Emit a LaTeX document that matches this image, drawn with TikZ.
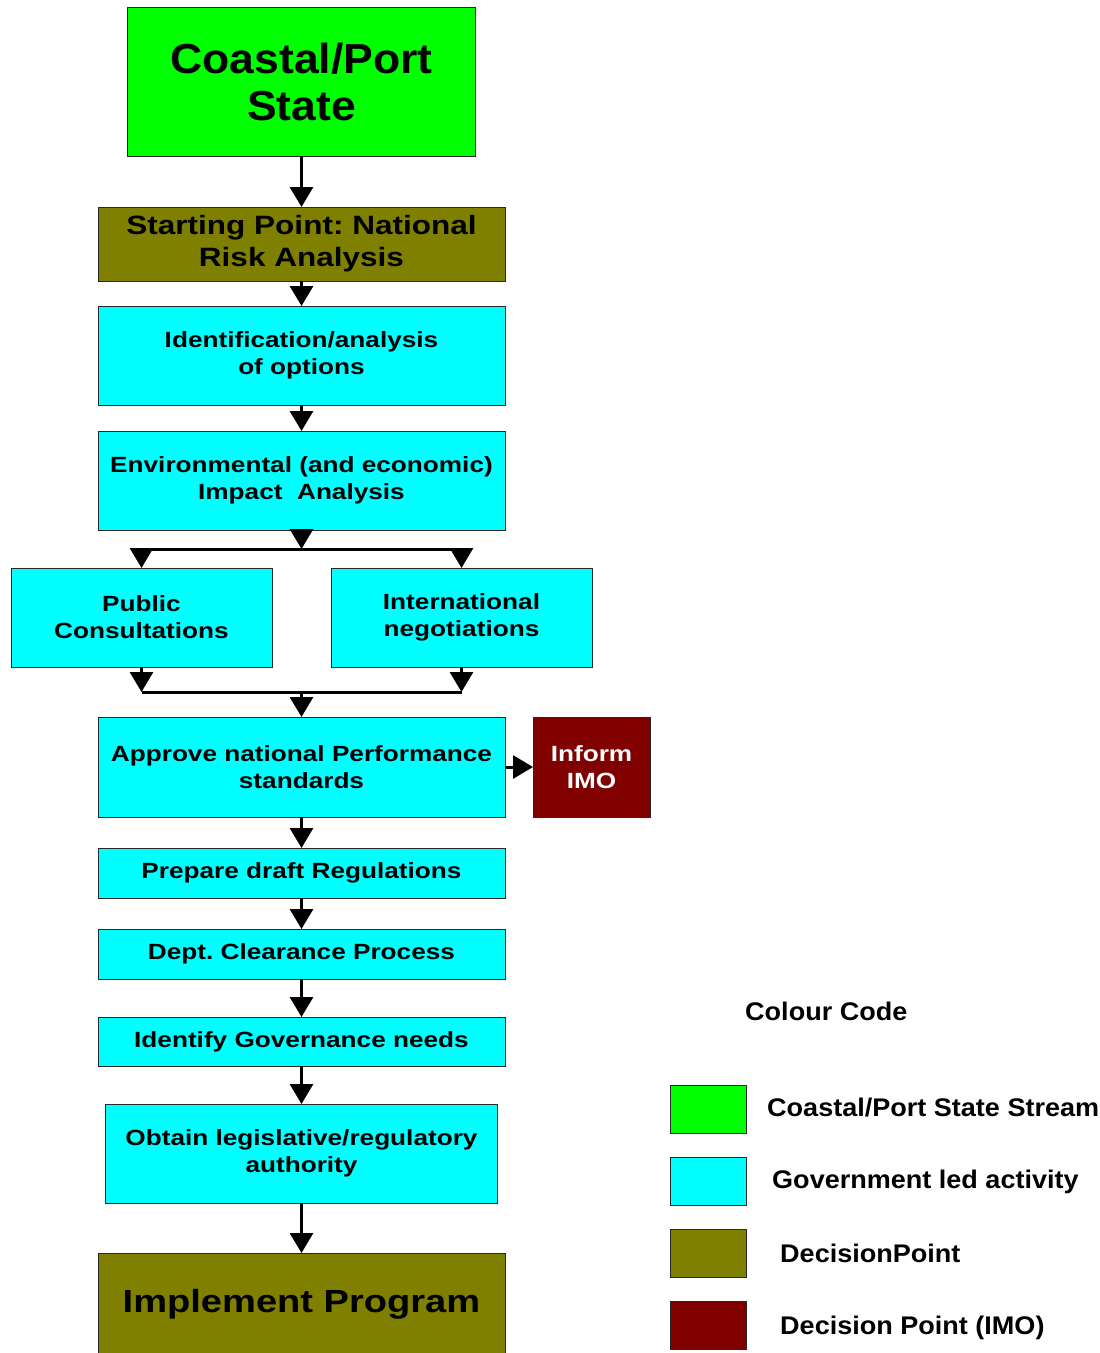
\documentclass[tikz,border=0pt]{standalone}
\usepackage{fontspec}
\setmainfont{Liberation Sans}[FakeStretch=1.06]
\newfontfamily\boxfont{Liberation Sans}[FakeStretch=1.19]
\frenchspacing
\usepackage{tikz}
\usetikzlibrary{arrows.meta,positioning}
\definecolor{stategreen}{RGB}{0,255,0}
\definecolor{govcyan}{RGB}{0,255,255}
\definecolor{decolive}{RGB}{128,128,0}
\definecolor{imored}{RGB}{128,0,0}
\definecolor{edgegrey}{RGB}{40,40,40}

\begin{document}
\begin{tikzpicture}[x=1pt,y=-1pt,
  every node/.style={font=\boxfont\bfseries\fontsize{22}{27}\selectfont},
  box/.style={draw=edgegrey,line width=0.9pt,align=center,inner sep=0pt,outer sep=0pt},
  state/.style={box,fill=stategreen},
  gov/.style={box,fill=govcyan},
  dec/.style={box,fill=decolive},
  imo/.style={box,fill=imored,text=white},
  key/.style={box,minimum width=76pt,minimum height=48pt},
  keytxt/.style={anchor=base west,inner sep=0pt,font=\rmfamily\bfseries\fontsize{25.5}{30}\selectfont},
  ar/.style={-{Triangle[length=20pt,width=23pt]},line width=3pt},
  ln/.style={line width=3pt}]
\useasboundingbox (0,0) rectangle (1100,1353);
\node[state,minimum width=348pt,minimum height=149pt,font=\rmfamily\bfseries\fontsize{42}{47}\selectfont] (coastal) at (301.5,81.5) {Coastal/Port\\State};
\node[dec,minimum width=407pt,minimum height=74pt,font=\boxfont\bfseries\fontsize{26.5}{32}\selectfont] (start) at (301.5,244) {Starting Point: National\\Risk Analysis};
\node[gov,minimum width=407pt,minimum height=99pt] (ident) at (301.5,355.5) {Identification/analysis\\of options};
\node[gov,minimum width=407pt,minimum height=99pt] (env) at (301.5,480.5) {Environmental (and economic)\\Impact\ \ Analysis};
\node[gov,minimum width=261pt,minimum height=99pt] (pub) at (141.5,617.5) {Public\\Consultations};
\node[gov,minimum width=261pt,minimum height=99pt] (intl) at (461.5,617.5) {International\\negotiations};
\node[gov,minimum width=407pt,minimum height=100pt] (approve) at (301.5,767) {Approve national Performance\\standards};
\node[imo,minimum width=117pt,minimum height=100pt] (inform) at (591.5,767) {Inform\\IMO};
\node[gov,minimum width=407pt,minimum height=50pt] (draft) at (301.5,873) {Prepare draft Regulations};
\node[gov,minimum width=407pt,minimum height=50pt] (dept) at (301.5,954) {Dept. Clearance Process};
\node[gov,minimum width=407pt,minimum height=49pt] (govern) at (301.5,1041.5) {Identify Governance needs};
\node[gov,minimum width=392pt,minimum height=99pt] (obtain) at (301.5,1153.5) {Obtain legislative/regulatory\\authority};
\node[dec,minimum width=407pt,minimum height=103pt,font=\boxfont\bfseries\fontsize{32}{38}\selectfont] (impl) at (301.5,1304.5) {Implement Program};
\coordinate (splitM) at (301.5,549);
\coordinate (splitL) at (141.5,549);
\coordinate (splitR) at (461.5,549);
\coordinate (joinM) at (301.5,692);
\coordinate (joinL) at (141.5,692);
\coordinate (joinR) at (461.5,692);
\draw[ar] (coastal) -- (start);
\draw[ar] (start) -- (ident);
\draw[ar] (ident) -- (env);
\draw[ar] (env) -- (splitM);
\draw[ln] (splitL) -- (splitR);
\draw[ar] (splitL) -- (pub);
\draw[ar] (splitR) -- (intl);
\draw[ar] (pub) -- (joinL);
\draw[ar] (intl) -- (joinR);
\draw[ln] (joinL) -- (joinR);
\draw[ar] (joinM) -- (approve);
\draw[ar] (approve) -- (inform);
\draw[ar] (approve) -- (draft);
\draw[ar] (draft) -- (dept);
\draw[ar] (dept) -- (govern);
\draw[ar] (govern) -- (obtain);
\draw[ar] (obtain) -- (impl);
% colour code
\node[keytxt] (keytitle) at (745,1020) {Colour Code};
\node[key,fill=stategreen] (k1) at (708,1109) {};
\node[key,fill=govcyan] (k2) at (708,1181) {};
\node[key,fill=decolive] (k3) at (708,1253) {};
\node[key,fill=imored] (k4) at (708,1325) {};
\node[keytxt] (t1) at (767,1116) {Coastal/Port State Stream};
\node[keytxt] (t2) at (772,1188) {Government led activity};
\node[keytxt] (t3) at (780,1262) {DecisionPoint};
\node[keytxt] (t4) at (780,1334) {Decision Point (IMO)};
\end{tikzpicture}
\end{document}
